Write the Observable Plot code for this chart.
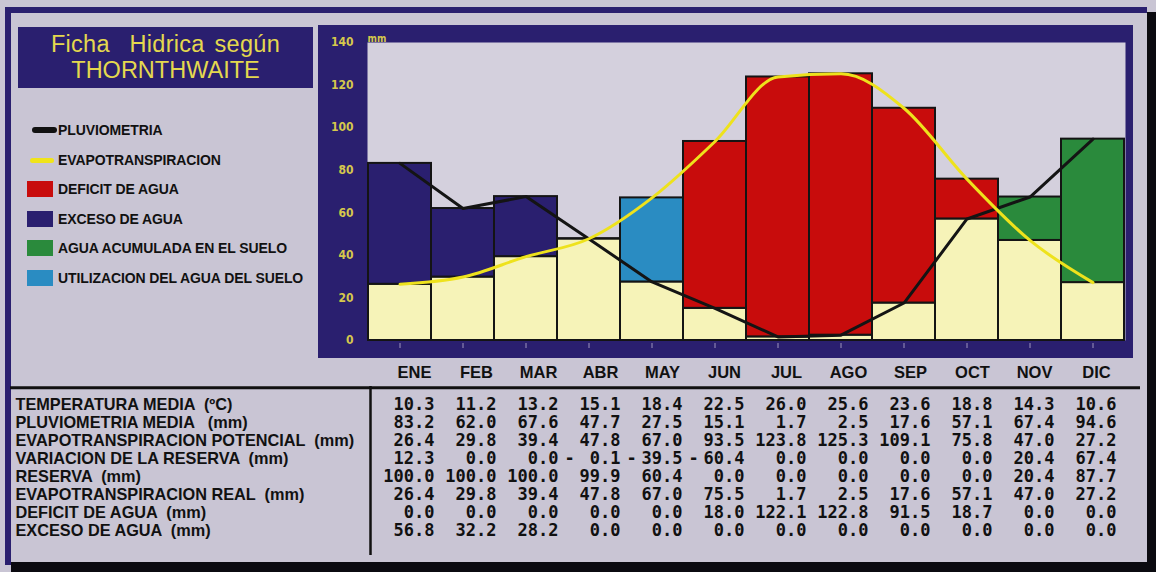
<!DOCTYPE html>
<html>
<head>
<meta charset="utf-8">
<script src="https://cdn.jsdelivr.net/npm/d3@7"></script>
<script src="https://cdn.jsdelivr.net/npm/@observablehq/plot@0.6"></script>
<style>
  html, body { margin: 0; padding: 0; }
  body { width: 1156px; height: 572px; position: relative; overflow: hidden; background: #c9c5d4; font-family: "Liberation Sans", Arial, sans-serif; }
  .abs { position: absolute; }
  svg text { white-space: pre; }
  #title { left: 18px; top: 27px; width: 295px; height: 61px; background: #2a1f6f; color: #e4d84e; font-size: 23.5px; text-align: center; line-height: 26px; white-space: pre; padding-top: 4px; box-sizing: border-box; }
  #title .l1 { word-spacing: 3px; letter-spacing: 0.3px; }
  .leg { position: absolute; left: 27px; height: 20px; display: flex; align-items: center; }
  .leg span.t { position: absolute; left: 31px; top: 2px; font-weight: bold; font-size: 14px; color: #111; white-space: nowrap; letter-spacing: -0.1px; }
  .sw { position: absolute; }
</style>
</head>
<body>
<div class="abs" style="left:5px;top:7px;width:1142px;height:6px;background:#2a1f6f"></div>
<div class="abs" style="left:5px;top:7px;width:6px;height:558px;background:#2a1f6f"></div>
<div class="abs" style="left:1147px;top:12px;width:9px;height:560px;background:#0b0a10"></div>
<div class="abs" style="left:11px;top:562px;width:1145px;height:10px;background:#0b0a10"></div>
<div id="title" class="abs"><span class="l1">Ficha  Hidrica según</span>
THORNTHWAITE</div>
<div id="legend"></div>
<div id="chart" class="abs" style="left:318px;top:25px"></div>
<div id="table" class="abs" style="left:0px;top:355px"></div>
<script>
// ---- data ----
const months = ["ENE", "FEB", "MAR", "ABR", "MAY", "JUN", "JUL", "AGO", "SEP", "OCT", "NOV", "DIC"];
const temperatura = [10.3, 11.2, 13.2, 15.1, 18.4, 22.5, 26.0, 25.6, 23.6, 18.8, 14.3, 10.6];
const pluviometria = [83.2, 62.0, 67.6, 47.7, 27.5, 15.1, 1.7, 2.5, 17.6, 57.1, 67.4, 94.6];
const etp = [26.4, 29.8, 39.4, 47.8, 67.0, 93.5, 123.8, 125.3, 109.1, 75.8, 47.0, 27.2];
const variacion = [12.3, 0.0, 0.0, -0.1, -39.5, -60.4, 0.0, 0.0, 0.0, 0.0, 20.4, 67.4];
const reserva = [100.0, 100.0, 100.0, 99.9, 60.4, 0.0, 0.0, 0.0, 0.0, 0.0, 20.4, 87.7];
const etr = [26.4, 29.8, 39.4, 47.8, 67.0, 75.5, 1.7, 2.5, 17.6, 57.1, 47.0, 27.2];
const deficit = [0.0, 0.0, 0.0, 0.0, 0.0, 18.0, 122.1, 122.8, 91.5, 18.7, 0.0, 0.0];
const exceso = [56.8, 32.2, 28.2, 0.0, 0.0, 0.0, 0.0, 0.0, 0.0, 0.0, 0.0, 0.0];
const yTicks = [0, 20, 40, 60, 80, 100, 120, 140];
const rowLabels = [
  "TEMPERATURA MEDIA  (ºC)",
  "PLUVIOMETRIA MEDIA   (mm)",
  "EVAPOTRANSPIRACION POTENCIAL  (mm)",
  "VARIACION DE LA RESERVA  (mm)",
  "RESERVA  (mm)",
  "EVAPOTRANSPIRACION REAL  (mm)",
  "DEFICIT DE AGUA  (mm)",
  "EXCESO DE AGUA  (mm)"
];
const rowValues = [temperatura, pluviometria, etp, variacion, reserva, etr, deficit, exceso];
const legendItems = [
  {label: "PLUVIOMETRIA", kind: "line", color: "#111111"},
  {label: "EVAPOTRANSPIRACION", kind: "line", color: "#f0e41a"},
  {label: "DEFICIT DE AGUA", kind: "rect", color: "#c80c0c"},
  {label: "EXCESO DE AGUA", kind: "rect", color: "#2a1f6f"},
  {label: "AGUA ACUMULADA EN EL SUELO", kind: "rect", color: "#2a8a3c"},
  {label: "UTILIZACION DEL AGUA DEL SUELO", kind: "rect", color: "#2a8cc2"}
];
const tipos = ["deficit", "exceso", "acumulada", "utilizacion"];
const tipoColors = ["#c80c0c", "#2a1f6f", "#2a8a3c", "#2a8cc2"];

// ---- legend (HTML) ----
const legend = document.getElementById("legend");
legendItems.forEach((it, i) => {
  const top = 120 + i * 29.5;
  const d = document.createElement("div");
  d.className = "leg";
  d.style.top = top + "px";
  const sw = document.createElement("div");
  sw.className = "sw";
  if (it.kind === "line") {
    sw.style.cssText = `left:${i === 0 ? 5 : 3}px;top:${i === 0 ? 7 : 8}px;width:${i === 0 ? 25 : 24}px;height:${i === 0 ? 6 : 5}px;border-radius:3px;background:${it.color}`;
  } else {
    sw.style.cssText = `left:0px;top:2px;width:26px;height:16px;background:${it.color}`;
  }
  const t = document.createElement("span");
  t.className = "t";
  t.textContent = it.label;
  d.appendChild(sw);
  d.appendChild(t);
  legend.appendChild(d);
});

// ---- chart ----
const base = months.map((m, i) => ({mes: m, hi: Math.min(pluviometria[i], etp[i])}));
const tops = months.map((m, i) => {
  const p = pluviometria[i], e = etp[i];
  let tipo;
  if (p >= e) tipo = exceso[i] > 0 ? "exceso" : "acumulada";
  else tipo = deficit[i] > 0 ? "deficit" : "utilizacion";
  return {mes: m, lo: Math.min(p, e), hi: Math.max(p, e), tipo};
});
const pLine = months.map((m, i) => ({mes: m, v: pluviometria[i]}));
const eLine = months.map((m, i) => ({mes: m, v: etp[i]}));

const chart = Plot.plot({
  width: 815,
  height: 333,
  marginLeft: 49,
  marginRight: 8,
  marginTop: 17,
  marginBottom: 18,
  style: {background: "#2a1f6f", fontFamily: "'Liberation Sans Narrow','DejaVu Sans Condensed',sans-serif", fontSize: "12px", overflow: "visible"},
  x: {type: "band", domain: months, padding: 0, axis: null},
  y: {domain: [0, 140], axis: null},
  color: {domain: tipos, range: tipoColors},
  marks: [
    Plot.frame({fill: "#d4d0dd", stroke: "none"}),
    Plot.barY(base, {x: "mes", y1: 0, y2: "hi", fill: "#f6f3b8", stroke: "#141414", strokeWidth: 2}),
    Plot.barY(tops, {x: "mes", y1: "lo", y2: "hi", fill: "tipo", stroke: "#141414", strokeWidth: 2}),
    Plot.line(pLine, {x: "mes", y: "v", stroke: "#141414", strokeWidth: 3, curve: "linear"}),
    Plot.line(eLine, {x: "mes", y: "v", stroke: "#eee21c", strokeWidth: 3, curve: "monotone-x"}),
    Plot.axisY({ticks: yTicks, tickSize: 0, tickPadding: 14, color: "#d6c84c", fontWeight: "bold", fontSize: 12, label: null}),
    Plot.axisX({tickSize: 5, dy: 3, tickFormat: () => "", stroke: "#9d95bd", strokeWidth: 1, label: null}),
    Plot.text(["mm"], {frameAnchor: "top-left", textAnchor: "start", dy: -8, dx: 0, fill: "#d6c84c", fontSize: 10, fontWeight: "bold"})
  ]
});
document.getElementById("chart").appendChild(chart);

// ---- table ----
const cells = [];
rowLabels.forEach((r, k) => {
  months.forEach((m, i) => {
    const v = rowValues[k][i];
    cells.push({row: r, mes: m, txt: Math.abs(v).toFixed(1), neg: v < 0});
  });
});
const table = Plot.plot({
  width: 1156,
  height: 210,
  marginLeft: 10,
  marginRight: 16,
  marginTop: 31,
  marginBottom: 10,
  style: {background: "transparent", color: "#111", overflow: "visible"},
  x: {type: "point", domain: months, range: [432, 1118], padding: 0, axis: null},
  y: {type: "point", domain: rowLabels, range: [47.7, 176.7], padding: 0, axis: null},
  marks: [
    Plot.ruleY([rowLabels[0]], {dy: -16.7, stroke: "#111", strokeWidth: 3}),
    Plot.ruleX([months[0]], {dx: -64, stroke: "#111", strokeWidth: 2.5}),
    Plot.text(months, {x: d => d, frameAnchor: "top", lineAnchor: "middle", dx: -20, dy: -13.5, fontFamily: "'Liberation Sans',Arial,sans-serif", fontWeight: "bold", fontSize: 16.5, fill: "#111", style: "letter-spacing:1.5px"}),
    Plot.text(rowLabels, {y: d => d, frameAnchor: "left", textAnchor: "start", dx: 5, fontFamily: "'Liberation Sans',Arial,sans-serif", fontWeight: "bold", fontSize: 16.3, fill: "#111"}),
    Plot.text(cells, {x: "mes", y: "row", text: "txt", textAnchor: "end", fontFamily: "'DejaVu Sans Mono',monospace", fontWeight: "bold", fontSize: 17, fill: "#111"}),
    Plot.text(cells.filter(d => d.neg), {x: "mes", y: "row", text: () => "-", textAnchor: "start", dx: -56, fontFamily: "'DejaVu Sans Mono',monospace", fontWeight: "bold", fontSize: 17, fill: "#111"})
  ]
});
document.getElementById("table").appendChild(table);
</script>
</body>
</html>
